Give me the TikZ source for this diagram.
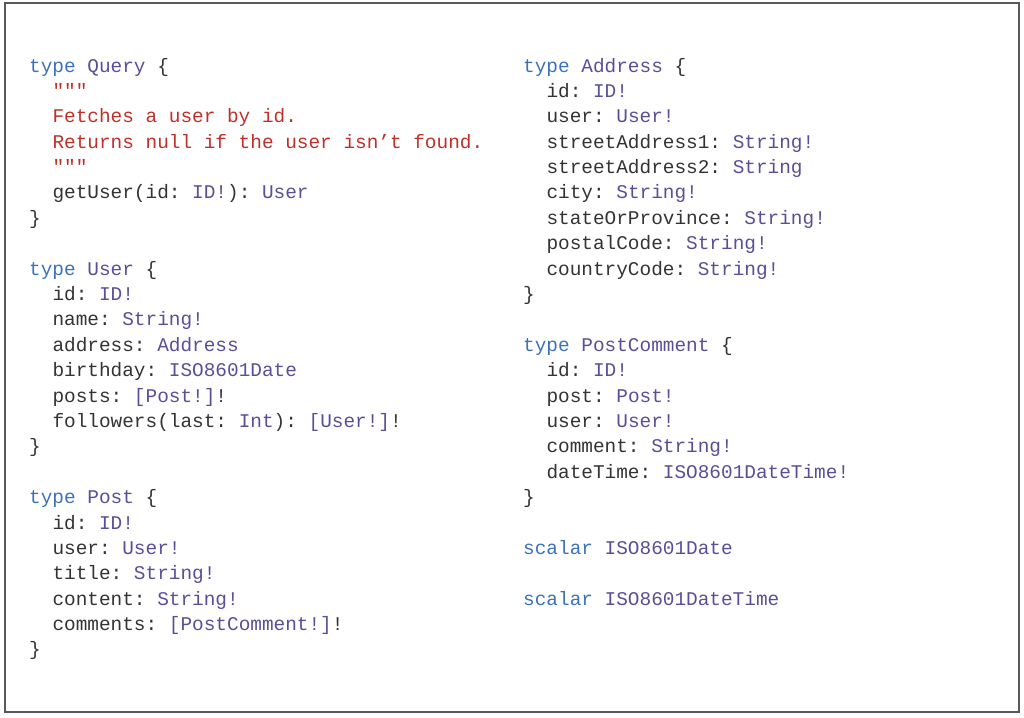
\documentclass[tikz,border=0pt]{standalone}
\usepackage{fontspec}
\setmonofont{Liberation Mono}
\usepackage{xcolor}
\usepackage{tikz}
\definecolor{kwblue}{HTML}{3D72B8}
\definecolor{typurple}{HTML}{5B4E96}
\definecolor{cmred}{HTML}{C0302A}
\definecolor{codegray}{HTML}{333333}
\newcommand\kw[1]{\textcolor{kwblue}{#1}}
\newcommand\ty[1]{\textcolor{typurple}{#1}}
\newcommand\cm[1]{\textcolor{cmred}{#1}}
\newcommand\codefont{\ttfamily\fontsize{19.4}{25.4}\selectfont}

\begin{document}
\begin{tikzpicture}[
  x=1pt, y=-1pt,
  codeline/.style={anchor=base west, inner sep=0pt, font=\codefont, text=codegray},
  frame/.style={draw=black!65, line width=1.6pt}
]
\useasboundingbox (0,0) rectangle (1024,717);
\draw[frame] (5,3) rectangle (1019,712);
% left column
\begin{scope}[xshift=29pt]
\foreach \r/\i/\txt in {
  0/0/{\kw{type} \ty{Query} \{},
  1/1/{\cm{"""}},
  2/1/{\cm{Fetches a user by id.}},
  3/1/{\cm{Returns null if the user isn’t found.}},
  4/1/{\cm{"""}},
  5/1/{getUser(id: \ty{ID!}): \ty{User}},
  6/0/{\}},
  8/0/{\kw{type} \ty{User} \{},
  9/1/{id: \ty{ID!}},
  10/1/{name: \ty{String!}},
  11/1/{address: \ty{Address}},
  12/1/{birthday: \ty{ISO8601Date}},
  13/1/{posts: \ty{[Post!]}!},
  14/1/{followers(last: \ty{Int}): \ty{[User!]}!},
  15/0/{\}},
  17/0/{\kw{type} \ty{Post} \{},
  18/1/{id: \ty{ID!}},
  19/1/{user: \ty{User!}},
  20/1/{title: \ty{String!}},
  21/1/{content: \ty{String!}},
  22/1/{comments: \ty{[PostComment!]}!},
  23/0/{\}}}
  \node[codeline] (left-\r) at (\i*23.3, 72+\r*25.39) {\txt};
\end{scope}
% right column
\begin{scope}[xshift=523pt]
\foreach \r/\i/\txt in {
  0/0/{\kw{type} \ty{Address} \{},
  1/1/{id: \ty{ID!}},
  2/1/{user: \ty{User!}},
  3/1/{streetAddress1: \ty{String!}},
  4/1/{streetAddress2: \ty{String}},
  5/1/{city: \ty{String!}},
  6/1/{stateOrProvince: \ty{String!}},
  7/1/{postalCode: \ty{String!}},
  8/1/{countryCode: \ty{String!}},
  9/0/{\}},
  11/0/{\kw{type} \ty{PostComment} \{},
  12/1/{id: \ty{ID!}},
  13/1/{post: \ty{Post!}},
  14/1/{user: \ty{User!}},
  15/1/{comment: \ty{String!}},
  16/1/{dateTime: \ty{ISO8601DateTime!}},
  17/0/{\}},
  19/0/{\kw{scalar} \ty{ISO8601Date}},
  21/0/{\kw{scalar} \ty{ISO8601DateTime}}}
  \node[codeline] (right-\r) at (\i*23.3, 72+\r*25.39) {\txt};
\end{scope}
\end{tikzpicture}
\end{document}
